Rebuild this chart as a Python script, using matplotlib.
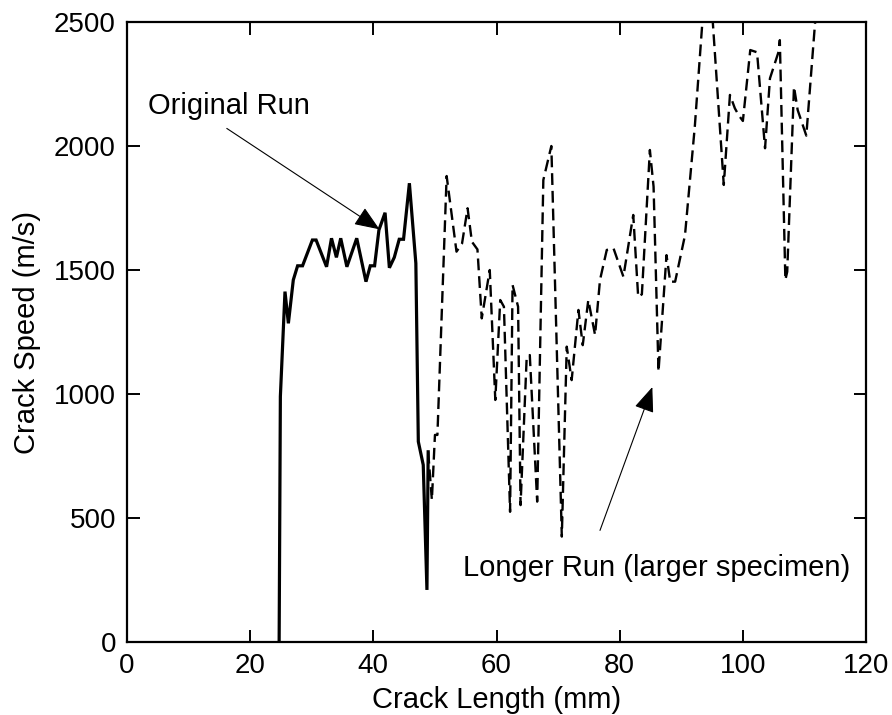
import numpy as np
import matplotlib
matplotlib.use("Agg")
import matplotlib.pyplot as plt

plt.rcParams['font.family'] = ['Liberation Sans', 'DejaVu Sans']
plt.rcParams['font.size'] = 20

# original run (solid line)
orig_len = [24.7, 24.9, 25.65, 26.2, 27.0, 27.7, 28.5, 30.1, 30.7, 32.4, 33.2, 34.0,
            34.7, 35.7, 37.3, 38.8, 39.5, 40.2, 40.9, 41.9, 42.6, 43.4, 44.2, 44.9,
            45.85, 46.9, 47.3, 48.1, 48.7, 48.9]
orig_speed = [0, 990, 1413, 1285, 1460, 1517, 1517, 1621, 1621, 1513, 1628, 1551,
              1628, 1513, 1628, 1453, 1517, 1517, 1661, 1731, 1509, 1551, 1624, 1624,
              1850, 1527, 808, 714, 210, 767]

# longer run, larger specimen (dashed line)
long_len = [48.9, 49.5, 50.0, 50.4, 51.9, 53.5, 54.4, 55.3, 56.0, 56.9, 57.6, 58.9,
            59.8, 60.6, 61.2, 62.2, 62.6, 63.5, 63.9, 64.9, 65.4, 66.6, 67.6, 68.9,
            70.6, 71.4, 72.2, 73.3, 74.0, 74.9, 76.0, 76.8, 77.9, 79.0, 80.6, 82.2,
            83.0, 83.6, 84.9, 85.5, 86.3, 87.6, 88.2, 89.0, 90.6, 92.2, 94.3, 96.9,
            97.9, 98.7, 99.3, 100.0, 101.2, 102.3, 103.6, 104.4, 105.8, 106.0, 106.9,
            107.2, 108.3, 108.9, 110.3, 111.7, 113.0]
long_speed = [767, 573, 835, 835, 1879, 1574, 1607, 1749, 1614, 1583, 1305, 1500,
              976, 1379, 1352, 525, 1440, 1352, 552, 1150, 1157, 566, 1863, 2000,
              425, 1191, 1056, 1339, 1197, 1379, 1238, 1460, 1581, 1587, 1473, 1722,
              1392, 1402, 1984, 1836, 1090, 1560, 1453, 1453, 1640, 2080, 2800, 1843,
              2206, 2152, 2125, 2101, 2387, 2378, 1991, 2273, 2380, 2427, 1460,
              1493, 2239, 2145, 2042, 2490, 2800]

x_ticks = [0, 20, 40, 60, 80, 100, 120]
y_ticks = [0, 500, 1000, 1500, 2000, 2500]

fig = plt.figure(figsize=(8.92, 7.15), dpi=100)
ax = fig.add_axes([0.1424, 0.1021, 0.8285, 0.8671])

ax.plot(orig_len, orig_speed, color="black", lw=2.3, solid_joinstyle="miter")
ax.plot(long_len, long_speed, color="black", lw=1.7, linestyle=(0, (5, 2.5)))

ax.set_xlim(0, 120)
ax.set_ylim(0, 2500)
ax.set_xticks(x_ticks)
ax.set_yticks(y_ticks)
ax.tick_params(direction="in", top=True, right=True, length=9, width=1.4, pad=8)
for sp in ax.spines.values():
    sp.set_linewidth(1.6)

ax.set_xlabel("Crack Length (mm)", fontsize=21, labelpad=5)
ax.set_ylabel("Crack Speed (m/s)", fontsize=21, labelpad=9)

arrow = dict(arrowstyle="-|>,head_length=0.6,head_width=0.24", lw=0.8,
             color="black", mutation_scale=26, shrinkA=0, shrinkB=0)
ax.annotate("", xy=(41.0, 1664), xytext=(16.2, 2071), arrowprops=arrow)
ax.text(3.4, 2128, "Original Run", ha="left", va="baseline", fontsize=21)
ax.annotate("", xy=(85.3, 1028), xytext=(76.8, 450), arrowprops=arrow)
ax.text(54.6, 268, "Longer Run (larger specimen)", ha="left", va="baseline", fontsize=21)

plt.savefig("out.png", dpi=100)
